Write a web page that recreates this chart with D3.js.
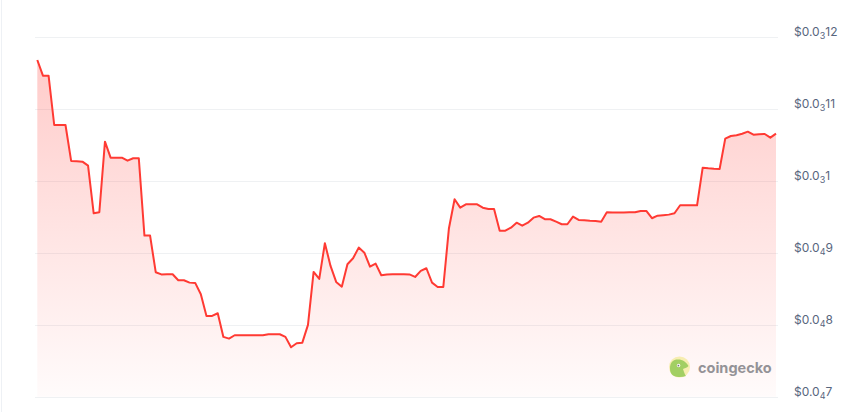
<!DOCTYPE html>
<html>
<head>
<meta charset="utf-8">
<script src="https://cdn.jsdelivr.net/npm/d3@7"></script>
<style>
  html, body { margin: 0; padding: 0; background: #fff; }
  svg { display: block; }
</style>
</head>
<body>
<svg id="chart" width="862" height="412"></svg>
<script>
// Price series (units of 1e-5 USD), evenly spaced samples
const prices = [
  11.684, 11.466, 11.466, 10.780, 10.780, 10.780, 10.280, 10.275, 10.270, 10.214,
  9.552, 9.566, 10.548, 10.325, 10.325, 10.325, 10.284, 10.317, 10.317, 9.241,
  9.241, 8.732, 8.701, 8.704, 8.704, 8.620, 8.620, 8.587, 8.583, 8.426,
  8.124, 8.124, 8.161, 7.832, 7.808, 7.855, 7.855, 7.855, 7.855, 7.855,
  7.855, 7.869, 7.869, 7.869, 7.832, 7.688, 7.744, 7.752, 7.999, 8.736,
  8.638, 9.135, 8.819, 8.597, 8.531, 8.843, 8.926, 9.074, 9.004, 8.809,
  8.851, 8.690, 8.701, 8.704, 8.704, 8.704, 8.701, 8.666, 8.750, 8.787,
  8.587, 8.527, 8.527, 9.344, 9.747, 9.630, 9.677, 9.677, 9.677, 9.630,
  9.612, 9.612, 9.310, 9.310, 9.352, 9.421, 9.380, 9.421, 9.491, 9.515,
  9.469, 9.469, 9.435, 9.399, 9.399, 9.505, 9.459, 9.455, 9.449, 9.445,
  9.435, 9.566, 9.563, 9.561, 9.563, 9.566, 9.566, 9.584, 9.584, 9.483,
  9.519, 9.526, 9.533, 9.552, 9.663, 9.663, 9.663, 9.663, 10.186, 10.178,
  10.172, 10.168, 10.590, 10.627, 10.637, 10.659, 10.687, 10.645, 10.651, 10.655,
  10.604, 10.659
].map(v => v * 1e-5);

// Y tick values and their label parts ($0.0 + subscript zero count + digits)
const tickValues = [0.00012, 0.00011, 0.0001, 0.00009, 0.00008, 0.00007];
const tickSubs   = ["3", "3", "3", "4", "4", "4"];
const tickDigits = ["12", "11", "1", "9", "8", "7"];

const svg = d3.select("#chart");
const W = 862, H = 412;

const x = d3.scaleLinear().domain([0, prices.length - 1]).range([37.3, 776]);
const y = d3.scaleLinear().domain([0.00007, 0.00012]).range([396.7, 37.3]);

// left border
svg.append("line")
  .attr("x1", 1.5).attr("x2", 1.5).attr("y1", 0).attr("y2", H)
  .attr("stroke", "#eef1f5").attr("stroke-width", 1);

// gridlines
svg.append("g").selectAll("line").data(tickValues).join("line")
  .attr("x1", 35).attr("x2", 778)
  .attr("y1", d => Math.round(y(d)) + 0.5).attr("y2", d => Math.round(y(d)) + 0.5)
  .attr("stroke", "#eff1f3").attr("stroke-width", 1);

// gradient
const defs = svg.append("defs");
const grad = defs.append("linearGradient")
  .attr("id", "areaGrad").attr("gradientUnits", "userSpaceOnUse")
  .attr("x1", 0).attr("x2", 0).attr("y1", y(d3.max(prices))).attr("y2", y(0.00007));
grad.append("stop").attr("offset", "0%").attr("stop-color", "#ff3a33").attr("stop-opacity", 0.26);
grad.append("stop").attr("offset", "100%").attr("stop-color", "#ff3a33").attr("stop-opacity", 0.02);

const area = d3.area()
  .x((d, i) => x(i))
  .y0(y(0.00007))
  .y1(d => y(d));
svg.append("path").datum(prices)
  .attr("d", area).attr("fill", "url(#areaGrad)");

const line = d3.line()
  .x((d, i) => x(i))
  .y(d => y(d));
svg.append("path").datum(prices)
  .attr("d", line)
  .attr("fill", "none")
  .attr("stroke", "#ff3a33")
  .attr("stroke-width", 2)
  .attr("stroke-linejoin", "round");

// Y labels
const labels = svg.append("g")
  .attr("font-family", "Inter, 'Noto Sans', sans-serif")
  .attr("font-size", 12)
  .attr("fill", "#58667e");
tickValues.forEach((v, i) => {
  const t = labels.append("text")
    .attr("x", 794)
    .attr("y", y(v) - 1);
  t.append("tspan").text("$0.0");
  t.append("tspan").attr("font-size", 9).attr("dy", 3).text(tickSubs[i]);
  t.append("tspan").attr("dy", -3).text(tickDigits[i]);
});

// CoinGecko watermark
const wm = svg.append("g").attr("opacity", 0.8);
wm.append("circle").attr("cx", 679.5).attr("cy", 367).attr("r", 10.5).attr("fill", "#f6eca0");
wm.append("path")
  .attr("d", "M670,369 C670,362 673,359.5 678,359.5 C683,359.5 686,362 688.5,366 C687,368 684,368.5 683,369 C684,372 685,375 686,376 C682,377.5 677,377.5 673,375.5 C671,374 670,372 670,369 Z")
  .attr("fill", "#8cc63f");
wm.append("circle").attr("cx", 678.6).attr("cy", 365.5).attr("r", 1.7).attr("fill", "#fff");
wm.append("circle").attr("cx", 678.4).attr("cy", 365.6).attr("r", 0.9).attr("fill", "#555");
wm.append("text")
  .attr("x", 698).attr("y", 373)
  .attr("font-family", "Inter, 'Noto Sans', sans-serif")
  .attr("font-size", 14.5).attr("font-weight", 700)
  .attr("fill", "#7a7a80")
  .text("coingecko");
</script>
</body>
</html>
